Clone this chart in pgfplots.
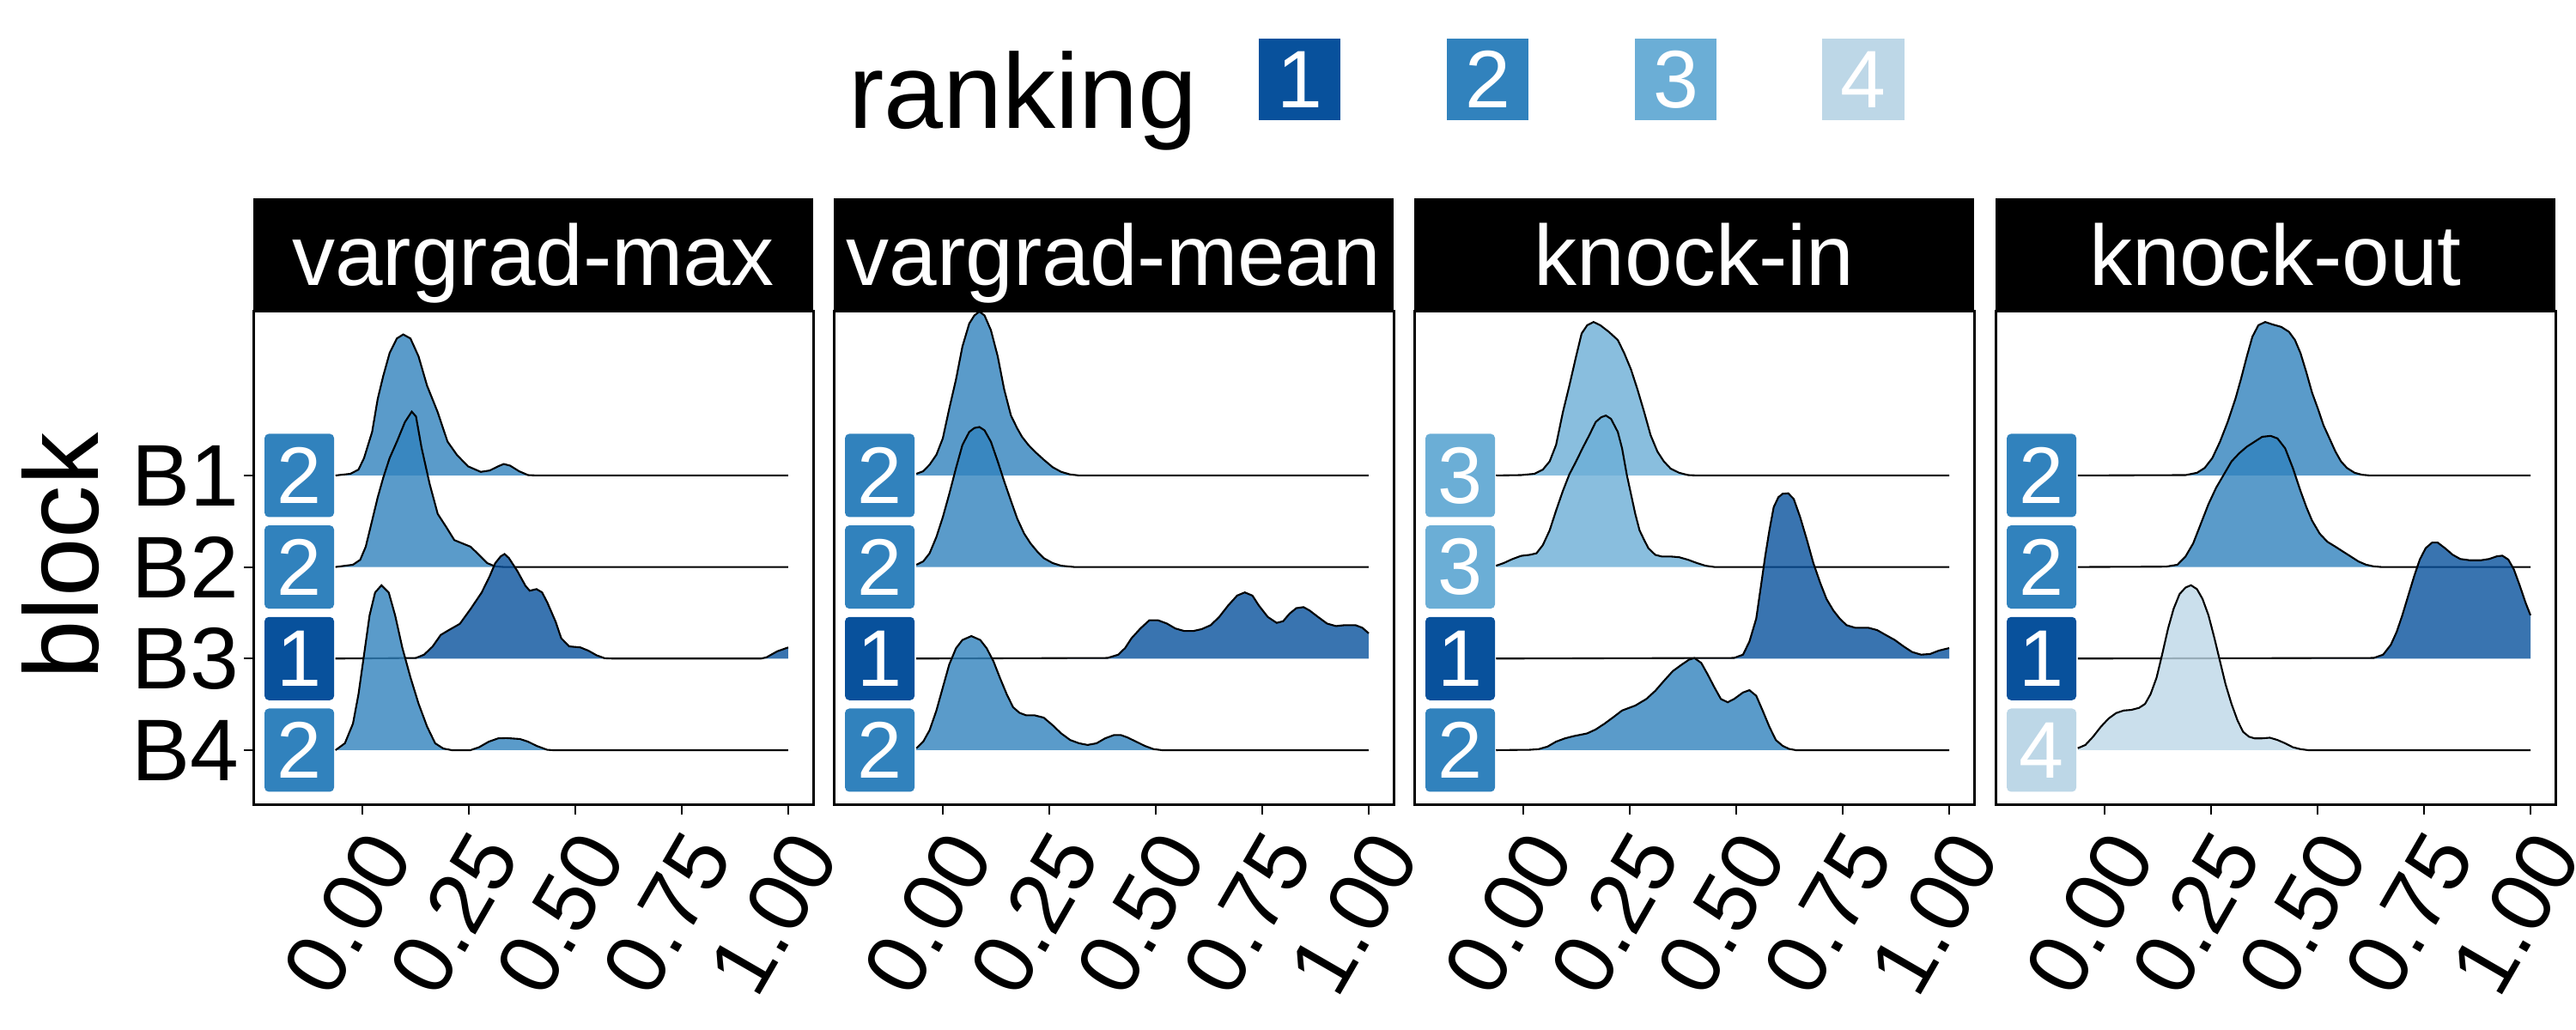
\documentclass[border=0pt]{standalone}
\usepackage{fontspec}
\setmainfont{Liberation Sans}
\usepackage{pgfplots}
\usepackage{pgfplotstable}
\pgfplotsset{compat=1.18}

\definecolor{rk1}{HTML}{08519C}
\definecolor{rk2}{HTML}{3182BD}
\definecolor{rk3}{HTML}{6BAED6}
\definecolor{rk4}{HTML}{BDD7E7}

% ridge densities: x, height above the block baseline, e=1 marks a closing point for the fill only
\pgfplotstableread{
x h e
-0.063 0 0
-0.028 0.018 0
-0.009 0.064 0
0.004 0.190 0
0.023 0.476 0
0.036 0.834 0
0.049 1.085 0
0.064 1.336 0
0.081 1.496 0
0.096 1.540 0
0.113 1.496 0
0.132 1.300 0
0.152 0.980 0
0.177 0.690 0
0.200 0.370 0
0.222 0.225 0
0.248 0.100 0
0.278 0.039 0
0.299 0.054 0
0.319 0.100 0
0.332 0.125 0
0.347 0.107 0
0.368 0.046 0
0.389 0.004 0
0.409 0 0
1.000 0 0
}\vmaxBa
\pgfplotstableread{
x h e
-0.063 0 0
-0.022 0.025 0
-0.005 0.079 0
0.008 0.222 0
0.023 0.508 0
0.036 0.759 0
0.049 0.974 0
0.064 1.189 0
0.081 1.368 0
0.100 1.583 0
0.116 1.697 0
0.126 1.644 0
0.139 1.304 0
0.158 0.909 0
0.177 0.580 0
0.197 0.437 0
0.216 0.294 0
0.235 0.258 0
0.254 0.222 0
0.274 0.133 0
0.293 0.043 0
0.312 0.007 0
0.332 0 0
1.000 0 0
}\vmaxBb
\pgfplotstableread{
x h e
-0.063 0 0
0.126 0.007 0
0.145 0.043 0
0.165 0.132 0
0.184 0.258 0
0.203 0.311 0
0.229 0.380 0
0.254 0.541 0
0.280 0.720 0
0.299 0.900 0
0.312 1.042 0
0.325 1.117 0
0.334 1.142 0
0.344 1.099 0
0.364 0.956 0
0.383 0.795 0
0.393 0.741 0
0.409 0.759 0
0.422 0.723 0
0.434 0.616 0
0.454 0.401 0
0.467 0.222 0
0.486 0.133 0
0.512 0.122 0
0.531 0.086 0
0.550 0.036 0
0.569 0.004 0
0.589 0 0
0.936 0 0
0.949 0.014 0
0.974 0.079 0
1.000 0.122 0
1.000 0 1
}\vmaxBc
\pgfplotstableread{
x h e
-0.063 0 0
-0.041 0.075 0
-0.022 0.290 0
-0.009 0.612 0
0.004 1.042 0
0.017 1.472 0
0.030 1.722 0
0.045 1.801 0
0.062 1.722 0
0.077 1.472 0
0.094 1.117 0
0.113 0.795 0
0.132 0.508 0
0.152 0.258 0
0.171 0.075 0
0.190 0.018 0
0.210 0 0
0.254 0 0
0.274 0.032 0
0.297 0.093 0
0.319 0.129 0
0.338 0.132 0
0.370 0.122 0
0.389 0.093 0
0.409 0.047 0
0.434 0.004 0
0.447 0 0
1.000 0 0
}\vmaxBd

\pgfplotstableread{
x h e
-0.062 0 1
-0.062 0.018 0
-0.046 0.046 0
-0.031 0.118 0
-0.015 0.226 0
0.000 0.405 0
0.015 0.727 0
0.031 1.049 0
0.046 1.407 0
0.062 1.658 0
0.074 1.747 0
0.086 1.790 0
0.098 1.747 0
0.113 1.586 0
0.129 1.300 0
0.144 0.942 0
0.160 0.655 0
0.175 0.512 0
0.186 0.422 0
0.201 0.333 0
0.216 0.261 0
0.237 0.172 0
0.258 0.090 0
0.278 0.039 0
0.299 0.011 0
0.320 0 0
1.000 0 0
}\vmeanBa
\pgfplotstableread{
x h e
-0.062 0 1
-0.062 0.025 0
-0.046 0.061 0
-0.031 0.150 0
-0.015 0.329 0
0.000 0.544 0
0.015 0.795 0
0.031 1.081 0
0.046 1.332 0
0.062 1.475 0
0.074 1.518 0
0.086 1.529 0
0.098 1.493 0
0.113 1.368 0
0.129 1.153 0
0.144 0.938 0
0.160 0.723 0
0.175 0.526 0
0.191 0.365 0
0.206 0.258 0
0.222 0.168 0
0.237 0.097 0
0.258 0.043 0
0.278 0.014 0
0.309 0 0
1.000 0 0
}\vmeanBb
\pgfplotstableread{
x h e
-0.062 0 0
0.387 0.007 0
0.412 0.043 0
0.428 0.115 0
0.443 0.222 0
0.464 0.329 0
0.485 0.419 0
0.505 0.419 0
0.526 0.383 0
0.546 0.329 0
0.567 0.301 0
0.588 0.301 0
0.608 0.322 0
0.629 0.365 0
0.649 0.455 0
0.670 0.580 0
0.691 0.688 0
0.709 0.723 0
0.727 0.688 0
0.742 0.580 0
0.763 0.455 0
0.784 0.390 0
0.799 0.408 0
0.814 0.490 0
0.830 0.551 0
0.847 0.562 0
0.861 0.526 0
0.881 0.455 0
0.902 0.383 0
0.923 0.355 0
0.943 0.365 0
0.969 0.365 0
0.985 0.337 0
1.000 0.276 0
1.000 0 1
}\vmeanBc
\pgfplotstableread{
x h e
-0.062 0 1
-0.062 0.021 0
-0.046 0.093 0
-0.031 0.218 0
-0.015 0.433 0
0.000 0.684 0
0.015 0.934 0
0.031 1.113 0
0.046 1.203 0
0.067 1.246 0
0.088 1.203 0
0.103 1.113 0
0.119 0.970 0
0.134 0.791 0
0.150 0.612 0
0.165 0.469 0
0.180 0.408 0
0.196 0.380 0
0.216 0.380 0
0.237 0.355 0
0.258 0.272 0
0.278 0.183 0
0.299 0.111 0
0.320 0.075 0
0.340 0.057 0
0.361 0.075 0
0.381 0.129 0
0.402 0.165 0
0.418 0.165 0
0.433 0.140 0
0.454 0.093 0
0.474 0.047 0
0.495 0.011 0
0.515 0 0
1.000 0 0
}\vmeanBd

\pgfplotstableread{
x h e
-0.064 0 0
-0.005 0.004 0
0.026 0.018 0
0.046 0.064 0
0.062 0.154 0
0.077 0.333 0
0.093 0.691 0
0.108 0.977 0
0.124 1.300 0
0.137 1.550 0
0.150 1.640 0
0.165 1.676 0
0.181 1.640 0
0.201 1.568 0
0.222 1.479 0
0.237 1.336 0
0.253 1.157 0
0.268 0.942 0
0.284 0.691 0
0.299 0.440 0
0.315 0.261 0
0.330 0.154 0
0.346 0.075 0
0.366 0.029 0
0.387 0.004 0
0.408 0 0
1.000 0 0
}\kinBa
\pgfplotstableread{
x h e
-0.064 0 1
-0.064 0.014 0
-0.046 0.043 0
-0.026 0.086 0
-0.005 0.122 0
0.015 0.133 0
0.031 0.150 0
0.046 0.240 0
0.062 0.401 0
0.077 0.616 0
0.093 0.831 0
0.108 1.010 0
0.124 1.153 0
0.139 1.296 0
0.155 1.440 0
0.170 1.583 0
0.183 1.636 0
0.194 1.654 0
0.206 1.618 0
0.222 1.475 0
0.232 1.296 0
0.243 1.010 0
0.253 0.795 0
0.263 0.580 0
0.273 0.401 0
0.284 0.294 0
0.294 0.204 0
0.310 0.133 0
0.325 0.115 0
0.346 0.115 0
0.366 0.107 0
0.387 0.079 0
0.408 0.043 0
0.428 0.014 0
0.449 0 0
1.000 0 0
}\kinBb
\pgfplotstableread{
x h e
-0.064 0 0
0.495 0.007 0
0.516 0.043 0
0.531 0.186 0
0.547 0.437 0
0.557 0.759 0
0.568 1.117 0
0.578 1.404 0
0.588 1.654 0
0.599 1.762 0
0.609 1.800 0
0.622 1.805 0
0.635 1.744 0
0.650 1.547 0
0.666 1.296 0
0.681 1.045 0
0.697 0.830 0
0.712 0.651 0
0.728 0.526 0
0.743 0.437 0
0.759 0.365 0
0.779 0.337 0
0.810 0.337 0
0.831 0.311 0
0.851 0.258 0
0.872 0.204 0
0.893 0.133 0
0.913 0.072 0
0.934 0.043 0
0.955 0.050 0
0.975 0.086 0
1.000 0.115 0
1.000 0 1
}\kinBc
\pgfplotstableread{
x h e
-0.064 0 0
0.015 0.004 0
0.036 0.011 0
0.057 0.039 0
0.077 0.093 0
0.098 0.129 0
0.119 0.154 0
0.150 0.183 0
0.170 0.226 0
0.191 0.290 0
0.212 0.362 0
0.232 0.433 0
0.263 0.487 0
0.289 0.559 0
0.310 0.648 0
0.330 0.755 0
0.351 0.863 0
0.372 0.934 0
0.389 0.988 0
0.402 1.006 0
0.418 0.952 0
0.433 0.827 0
0.449 0.684 0
0.464 0.559 0
0.480 0.523 0
0.495 0.559 0
0.516 0.630 0
0.531 0.655 0
0.547 0.594 0
0.562 0.433 0
0.578 0.254 0
0.593 0.111 0
0.609 0.047 0
0.624 0.014 0
0.640 0 0
1.000 0 0
}\kinBd

\pgfplotstableread{
x h e
-0.063 0 0
0.190 0.004 0
0.217 0.029 0
0.235 0.082 0
0.253 0.190 0
0.271 0.369 0
0.289 0.584 0
0.307 0.834 0
0.320 1.049 0
0.334 1.300 0
0.347 1.515 0
0.361 1.640 0
0.377 1.676 0
0.393 1.651 0
0.415 1.622 0
0.433 1.568 0
0.447 1.479 0
0.460 1.336 0
0.474 1.122 0
0.487 0.906 0
0.501 0.727 0
0.514 0.548 0
0.528 0.405 0
0.542 0.261 0
0.555 0.154 0
0.569 0.082 0
0.587 0.029 0
0.605 0.007 0
0.623 0 0
1.000 0 0
}\koutBa
\pgfplotstableread{
x h e
-0.063 0 0
0.144 0.004 0
0.171 0.025 0
0.190 0.115 0
0.208 0.258 0
0.226 0.473 0
0.244 0.688 0
0.262 0.867 0
0.280 1.010 0
0.298 1.153 0
0.316 1.242 0
0.334 1.314 0
0.352 1.368 0
0.370 1.422 0
0.390 1.432 0
0.406 1.404 0
0.424 1.296 0
0.442 1.081 0
0.460 0.831 0
0.474 0.652 0
0.487 0.508 0
0.505 0.365 0
0.523 0.276 0
0.542 0.222 0
0.560 0.168 0
0.578 0.115 0
0.596 0.061 0
0.614 0.025 0
0.632 0.007 0
0.650 0 0
1.000 0 0
}\koutBb
\pgfplotstableread{
x h e
-0.063 0 0
0.632 0.007 0
0.654 0.043 0
0.672 0.150 0
0.686 0.294 0
0.699 0.473 0
0.713 0.688 0
0.727 0.902 0
0.740 1.081 0
0.754 1.207 0
0.769 1.267 0
0.782 1.267 0
0.799 1.207 0
0.817 1.135 0
0.835 1.088 0
0.857 1.074 0
0.884 1.074 0
0.903 1.088 0
0.921 1.117 0
0.934 1.124 0
0.948 1.081 0
0.961 0.974 0
0.975 0.795 0
0.988 0.616 0
1.000 0.473 0
1.000 0 1
}\koutBc
\pgfplotstableread{
x h e
-0.063 0 1
-0.063 0.021 0
-0.045 0.057 0
-0.027 0.147 0
-0.009 0.254 0
0.009 0.344 0
0.027 0.405 0
0.045 0.433 0
0.063 0.440 0
0.081 0.462 0
0.095 0.505 0
0.108 0.612 0
0.122 0.791 0
0.135 1.042 0
0.149 1.328 0
0.162 1.543 0
0.176 1.704 0
0.190 1.776 0
0.203 1.801 0
0.217 1.758 0
0.230 1.651 0
0.244 1.472 0
0.258 1.221 0
0.271 0.970 0
0.284 0.720 0
0.298 0.505 0
0.312 0.326 0
0.325 0.201 0
0.339 0.147 0
0.352 0.129 0
0.370 0.129 0
0.388 0.136 0
0.406 0.111 0
0.424 0.075 0
0.442 0.032 0
0.460 0.011 0
0.478 0 0
1.000 0 0
}\koutBd

\pgfplotsset{
  panel/.style={
    scale only axis, width=130.4pt, height=115pt, anchor=south west,
    xmin=-0.256, xmax=1.0585, ymin=0.4, ymax=5.79,
    axis line style={line width=0.6pt},
    xtick={0,0.25,0.5,0.75,1}, xticklabels={0.00,0.25,0.50,0.75,1.00},
    ytick=\empty,
    tick align=outside, xtick pos=bottom, ytick pos=left,
    major tick length=2.2pt, tick style={black, line width=0.4pt},
    xticklabel style={rotate=60, anchor=north east, inner sep=0pt,
      font=\fontsize{20}{24}\selectfont},
    xticklabel shift=2.4pt,
  },
}

% one ridge: fill first, then the outline along the top only
\newcommand{\ridge}[3]{%
  \addplot[draw=none, fill=#3, fill opacity=0.8]
    table[x=x, y expr=\thisrow{h}+#2] {#1};
  \addplot[black, line width=0.42pt,
    restrict expr to domain={\thisrow{e}}{-0.5:0.5}]
    table[x=x, y expr=\thisrow{h}+#2] {#1};
}
% rank labels at the left of the ridges
\newcommand{\rlab}[2]{%
  \addplot[only marks, mark=text, text mark={#1}, text mark as node=true,
    text mark style={fill=rk#1, text=white, rounded corners=1pt,
      minimum width=16.2pt, minimum height=19.4pt, inner sep=0pt,
      font=\fontsize{18.7}{20}\selectfont}]
    coordinates {#2};
}

\begin{document}
\begin{tikzpicture}
\path[use as bounding box] (0,0) rectangle (600pt,240pt);

\begin{axis}[panel, at={(59pt,52.4pt)},
  ytick={1,2,3,4}, yticklabels={B4,B3,B2,B1},
  yticklabel style={font=\fontsize{20.4}{24}\selectfont, inner xsep=1pt, inner ysep=0pt}]
\ridge{\vmaxBa}{4}{rk2}
\ridge{\vmaxBb}{3}{rk2}
\ridge{\vmaxBc}{2}{rk1}
\ridge{\vmaxBd}{1}{rk2}
\rlab{2}{(-0.148,4) (-0.148,3) (-0.148,1)}
\rlab{1}{(-0.148,2)}
\end{axis}

\begin{axis}[panel, at={(194.2pt,52.4pt)}]
\ridge{\vmeanBa}{4}{rk2}
\ridge{\vmeanBb}{3}{rk2}
\ridge{\vmeanBc}{2}{rk1}
\ridge{\vmeanBd}{1}{rk2}
\rlab{2}{(-0.148,4) (-0.148,3) (-0.148,1)}
\rlab{1}{(-0.148,2)}
\end{axis}

\begin{axis}[panel, at={(329.4pt,52.4pt)}]
\ridge{\kinBa}{4}{rk3}
\ridge{\kinBb}{3}{rk3}
\ridge{\kinBc}{2}{rk1}
\ridge{\kinBd}{1}{rk2}
\rlab{3}{(-0.148,4) (-0.148,3)}
\rlab{1}{(-0.148,2)}
\rlab{2}{(-0.148,1)}
\end{axis}

\begin{axis}[panel, at={(464.8pt,52.4pt)}]
\ridge{\koutBa}{4}{rk2}
\ridge{\koutBb}{3}{rk2}
\ridge{\koutBc}{2}{rk1}
\ridge{\koutBd}{1}{rk4}
\rlab{2}{(-0.148,4) (-0.148,3)}
\rlab{1}{(-0.148,2)}
\rlab{4}{(-0.148,1)}
\end{axis}

% facet strips
\fill[black] (59pt,167.4pt) rectangle (189.4pt,193.8pt);
\fill[black] (194.2pt,167.4pt) rectangle (324.6pt,193.8pt);
\fill[black] (329.4pt,167.4pt) rectangle (459.8pt,193.8pt);
\fill[black] (464.8pt,167.4pt) rectangle (595.2pt,193.8pt);
\begin{scope}[every node/.style={text=white, anchor=base, inner sep=0pt,
    font=\fontsize{20}{24}\selectfont}]
\node at (124.2pt,173.4pt) {vargrad-max};
\node at (259.4pt,173.4pt) {vargrad-mean};
\node at (394.6pt,173.4pt) {knock-in};
\node at (530.0pt,173.4pt) {knock-out};
\end{scope}

% y axis title
\node[rotate=90, anchor=base, inner sep=0pt, font=\fontsize{24.6}{28}\selectfont]
  at (23pt,110.4pt) {block};

% legend
\node[anchor=base west, inner sep=0pt, font=\fontsize{24.8}{28}\selectfont]
  at (197.4pt,210pt) {ranking};
\begin{scope}[every node/.style={text=white, minimum width=19.1pt, minimum height=19pt,
    inner sep=0pt, font=\fontsize{19}{22}\selectfont}]
\node[fill=rk1] at (302.7pt,221.5pt) {1};
\node[fill=rk2] at (346.5pt,221.5pt) {2};
\node[fill=rk3] at (390.3pt,221.5pt) {3};
\node[fill=rk4] at (434.0pt,221.5pt) {4};
\end{scope}
\end{tikzpicture}
\end{document}
